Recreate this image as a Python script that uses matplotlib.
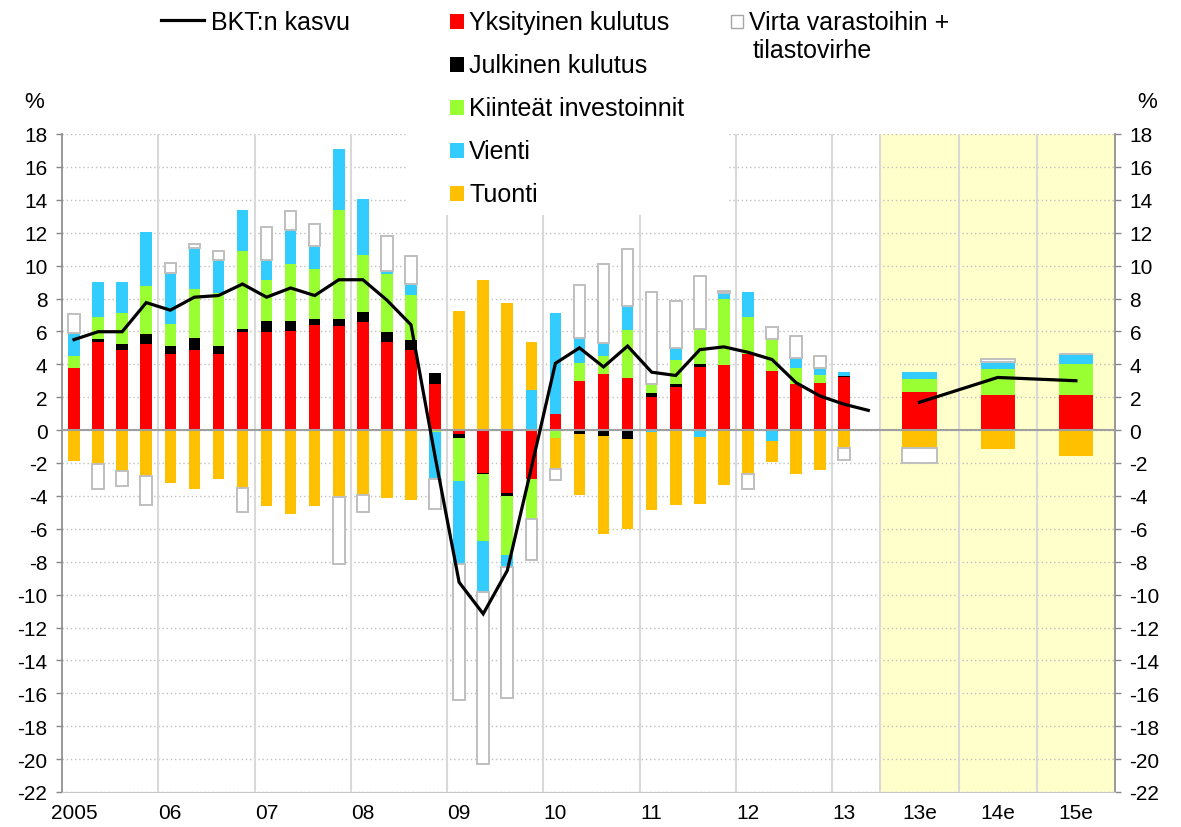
import numpy as np
import matplotlib.pyplot as plt
from matplotlib.patches import Rectangle

plt.rcParams['font.family'] = ['Liberation Sans', 'DejaVu Sans']
plt.rcParams['axes.unicode_minus'] = False

# Quarterly contributions 2005Q1 ... 2013Q2 (%-points)
year_labels = ['2005', '06', '07', '08', '09', '10', '11', '12', '13']
fc_labels = ['13e', '14e', '15e']

private = [3.75, 5.34, 4.89, 5.24, 4.63, 4.89, 4.63, 5.94, 5.96, 6.04, 6.40, 6.30,
           6.57, 5.34, 4.89, 2.78, -0.25, -2.61, -3.82, -3.00, 1.00, 3.00, 3.40, 3.17,
           2.01, 2.62, 3.85, 3.93, 4.65, 3.59, 2.78, 2.84, 3.22, 0]
public = [0, 0.20, 0.37, 0.62, 0.51, 0.69, 0.51, 0.20, 0.69, 0.61, 0.35, 0.45,
          0.60, 0.60, 0.61, 0.68, -0.20, -0.07, -0.16, 0, 0, -0.25, -0.37, -0.55,
          0.23, 0.16, 0.18, 0, 0, 0, 0, 0, 0.06, 0]
invest = [0.78, 1.31, 1.85, 2.92, 1.34, 3.00, 3.18, 4.74, 2.47, 3.46, 3.02, 6.62,
          3.46, 3.57, 2.74, -0.10, -2.65, -4.06, -3.62, -2.41, -0.51, 1.07, 1.13, 2.89,
          0.56, 1.51, 2.11, 4.05, 2.20, 1.95, 0.97, 0.48, 0.0, 0]
exports = [1.37, 2.17, 1.91, 3.26, 3.09, 2.46, 2.05, 2.47, 1.25, 2.04, 1.41, 3.71,
           3.43, 0.16, 0.64, -2.80, -5.07, -3.11, -0.73, 2.41, 6.10, 1.53, 0.76, 1.48,
           -0.10, 0.71, -0.40, 0.34, 1.57, -0.64, 0.62, 0.45, 0.26, 0]
imports = [-1.89, -2.09, -2.48, -2.82, -3.20, -3.56, -2.96, -3.52, -4.63, -5.08, -4.63, -4.07,
           -3.97, -4.11, -4.27, -0.10, 7.27, 9.12, 7.71, 2.92, -1.84, -3.69, -5.96, -5.44,
           -4.77, -4.53, -4.07, -3.32, -2.66, -1.31, -2.68, -2.42, -1.09, 0]
stocks = [1.17, -1.47, -0.90, -1.71, 0.58, 0.26, 0.49, -1.45, 1.98, 1.18, 1.37, -4.09,
          -1.00, 2.13, 1.71, -1.77, -8.21, -10.42, -7.97, -2.49, -0.71, 3.20, 4.80, 3.46,
          5.58, 2.85, 3.23, 0.16, -0.90, 0.72, 1.37, 0.72, -0.70, 0]
gdp = [5.50, 5.98, 5.98, 7.75, 7.29, 8.08, 8.18, 8.88, 8.08, 8.64, 8.18, 9.14,
       9.14, 7.90, 6.40, -1.60, -9.25, -11.17, -8.54, -2.30, 4.06, 5.00, 3.84, 5.11,
       3.52, 3.32, 4.89, 5.06, 4.73, 4.29, 2.88, 2.07, 1.57, 1.20]

# Annual forecasts 2013e-2015e
fc_private = [2.32, 2.13, 2.13]
fc_public = [0, 0, 0]
fc_invest = [0.80, 1.58, 1.88]
fc_exports = [0.40, 0.40, 0.60]
fc_imports = [-1.07, -1.13, -1.57]
fc_stocks = [-0.90, 0.20, 0]
fc_gdp = [1.69, 3.20, 3.00]

names = ['Yksityinen kulutus', 'Julkinen kulutus', 'Kiinteät investoinnit',
         'Vienti', 'Tuonti', 'Virta varastoihin +\ntilastovirhe']
colors = ['#FF0000', '#000000', '#99FF33', '#33CCFF', '#FFC000', '#FFFFFF']

W, H = 1181, 828
fig = plt.figure(figsize=(W / 100, H / 100), dpi=100)
ax = fig.add_axes([62 / W, 1 - 793 / H, (1115 - 62) / W, (793 - 135) / H])

nq = len(gdp)
xq = np.arange(nq)
slot = 3.25
fc_start = nq - 0.5
xf = fc_start + slot * (np.arange(3) + 0.5)


def stack(x, series, width):
    pos = np.zeros(len(x))
    neg = np.zeros(len(x))
    for vals, c in zip(series, colors):
        v = np.array(vals, dtype=float)
        base = np.where(v >= 0, pos, neg)
        if c == '#FFFFFF':
            ax.bar(x, v, width, bottom=base, color=c, edgecolor='#BFBFBF', lw=1.4, zorder=2)
        else:
            ax.bar(x, v, width, bottom=base, color=c, edgecolor='none', zorder=2)
        pos = np.where(v >= 0, pos + v, pos)
        neg = np.where(v < 0, neg + v, neg)


stack(xq, [private, public, invest, exports, imports, stocks], 0.48)
stack(xf, [fc_private, fc_public, fc_invest, fc_exports, fc_imports, fc_stocks], 1.42)

ax.plot(xq, gdp, color='black', lw=2.3, zorder=5, solid_joinstyle='miter')
ax.plot(xf, fc_gdp, color='black', lw=2.3, zorder=5)

# forecast shading and separators
ax.axvspan(fc_start, fc_start + 3 * slot, color='#FFFFCC', zorder=0.2, lw=0)
for xv in list(np.arange(3.5, nq - 1, 4)) + [fc_start, fc_start + slot, fc_start + 2 * slot]:
    ax.axvline(xv, color='#D9D9D9', lw=1.5, zorder=0.6)
ax.axhline(0, color='#A0A0A0', lw=1.5, zorder=4)

ax.set_xlim(-0.5, fc_start + 3 * slot)
ax.set_ylim(-22, 18)
ax.set_yticks(np.arange(-22, 19, 2))
ax.yaxis.grid(True, color='#BFBFBF', lw=1, linestyle=(0, (1, 2)))
ax.set_axisbelow(True)
ax.tick_params(axis='y', which='both', left=True, right=True, labelleft=True, labelright=True,
               direction='out', length=4.5, width=1, color='#888888', labelsize=15, pad=6)
ax.set_xticks(list(xq[::4]) + list(xf))
ax.set_xticklabels(year_labels + fc_labels)
ax.tick_params(axis='x', length=0, labelsize=15, pad=8)
ax.spines['top'].set_visible(False)
for s in ['left', 'right']:
    ax.spines[s].set_color('#888888')
    ax.spines[s].set_linewidth(1.2)
ax.spines['bottom'].set_color('#C8C8C8')

# overlay in pixel coordinates for the legend
ov = fig.add_axes([0, 0, 1, 1], zorder=10)
ov.set_xlim(0, W)
ov.set_ylim(H, 0)
ov.axis('off')
ov.add_patch(Rectangle((408, 0), 727 - 408, 216, facecolor='white', edgecolor='none'))

fs = 18
ov.text(34, 102, '%', fontsize=16, ha='center', va='center')
ov.text(1147, 102, '%', fontsize=16, ha='center', va='center')

ov.plot([161, 204], [21, 21], color='black', lw=2.3)
ov.text(211, 23, 'BKT:n kasvu', fontsize=fs, va='center')

for k, yc in enumerate([22, 65, 108, 151, 194]):
    ov.add_patch(Rectangle((450, yc - 7.5), 14, 15, facecolor=colors[k], edgecolor='none'))
    ov.text(469, yc + 1, names[k], fontsize=fs, va='center')

ov.add_patch(Rectangle((731, 16), 12, 13, facecolor='white', edgecolor='#A6A6A6', lw=1))
first, second = names[5].split('\n')
ov.text(749, 23, first, fontsize=fs, va='center')
ov.text(753, 51, second, fontsize=fs, va='center')

fig.savefig('out.png', dpi=100)
